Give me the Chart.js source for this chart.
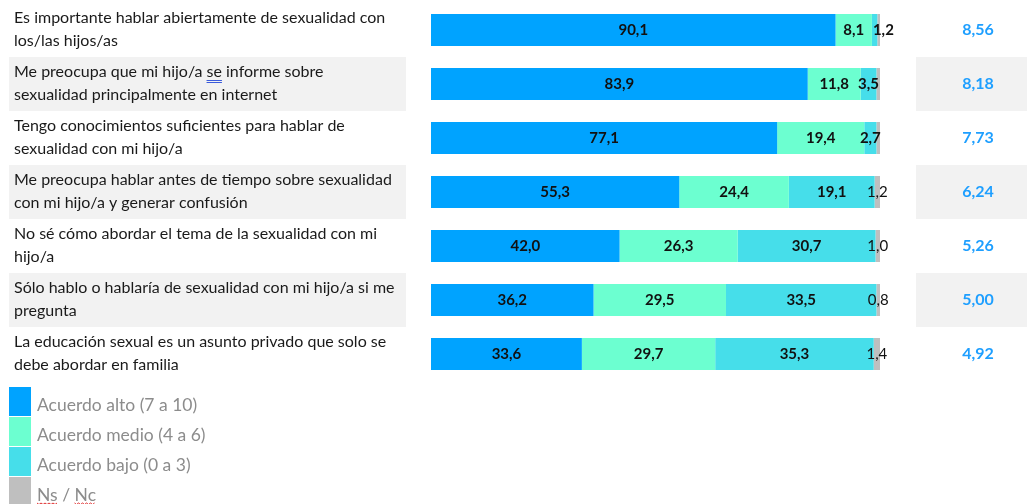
<!DOCTYPE html>
<html>
<head>
<meta charset="utf-8">
<script src="https://cdn.jsdelivr.net/npm/chart.js@4.4.1/dist/chart.umd.min.js"></script>
<style>
  html, body { margin: 0; padding: 0; background: #fff; }
  #wrap { width: 1027px; height: 504px; position: relative; }
</style>
</head>
<body>
<div id="wrap"><canvas id="chart" width="1027" height="504"></canvas></div>
<script>
// Statement labels (two lines each)
const statements = [
    ['Es importante hablar abiertamente de sexualidad con', 'los/las hijos/as'],
    ['Me preocupa que mi hijo/a se informe sobre', 'sexualidad principalmente en internet'],
    ['Tengo conocimientos suficientes para hablar de', 'sexualidad con mi hijo/a'],
    ['Me preocupa hablar antes de tiempo sobre sexualidad', 'con mi hijo/a y generar confusión'],
    ['No sé cómo abordar el tema de la sexualidad con mi', 'hijo/a'],
    ['Sólo hablo o hablaría de sexualidad con mi hijo/a si me', 'pregunta'],
    ['La educación sexual es un asunto privado que solo se', 'debe abordar en familia']
];

const acuerdoAlto  = [90.1, 83.9, 77.1, 55.3, 42.0, 36.2, 33.6];
const acuerdoMedio = [8.1, 11.8, 19.4, 24.4, 26.3, 29.5, 29.7];
const acuerdoBajo  = [1.2, 3.5, 2.7, 19.1, 30.7, 33.5, 35.3];
const nsNc         = [0.6, 0.8, 0.8, 1.2, 1.0, 0.8, 1.4];
const nsNcShown    = [false, false, false, true, true, true, true];
const promedios    = [8.56, 8.18, 7.73, 6.24, 5.26, 5.00, 4.92];

const seriesNames = ['Acuerdo alto (7 a 10)', 'Acuerdo medio (4 a 6)', 'Acuerdo bajo (0 a 3)', 'Ns / Nc'];
const seriesColors = ['#00A3FF', '#6CFFD0', '#46DEEA', '#BFBFBF'];

const FONT = 'Lato, "Noto Sans", sans-serif';
const fmt = (v, d) => v.toFixed(d).replace('.', ',');

// Table background, statement texts and average score column
const tablePlugin = {
    id: 'table',
    beforeDatasetsDraw(chart) {
        const { ctx, scales: { y } } = chart;
        const half = (y.getPixelForValue(1) - y.getPixelForValue(0)) / 2;
        ctx.save();
        statements.forEach((lines, i) => {
            const cy = y.getPixelForValue(i);
            if (i % 2 === 1) {
                ctx.fillStyle = '#F2F2F2';
                ctx.fillRect(9, cy - half, 397, half * 2);
                ctx.fillRect(916, cy - half, 111, half * 2);
            }
            ctx.fillStyle = '#1a1a1a';
            ctx.font = '16px ' + FONT;
            ctx.textBaseline = 'middle';
            ctx.textAlign = 'left';
            ctx.fillText(lines[0], 14, cy - 12);
            ctx.fillText(lines[1], 14, cy + 11);

            // spell-check underline on "se"
            if (i === 1) {
                const pre = ctx.measureText('Me preocupa que mi hijo/a ').width;
                const w = ctx.measureText('se').width;
                ctx.strokeStyle = '#3B5BDB';
                ctx.lineWidth = 1;
                ctx.beginPath();
                ctx.moveTo(14 + pre, cy - 3.5); ctx.lineTo(14 + pre + w, cy - 3.5);
                ctx.moveTo(14 + pre, cy - 1.5); ctx.lineTo(14 + pre + w, cy - 1.5);
                ctx.stroke();
            }

            ctx.fillStyle = '#1E9FFF';
            ctx.font = 'bold 16px ' + FONT;
            ctx.textAlign = 'center';
            ctx.fillText(fmt(promedios[i], 2), 978, cy);
        });
        ctx.restore();
    },
    afterDatasetsDraw(chart) {
        const { ctx } = chart;
        ctx.save();
        ctx.textBaseline = 'middle';
        chart.data.datasets.forEach((ds, di) => {
            const meta = chart.getDatasetMeta(di);
            meta.data.forEach((bar, i) => {
                if (di === 3 && !nsNcShown[i]) return;
                const w = Math.abs(bar.x - bar.base);
                ctx.fillStyle = '#111';
                ctx.font = (di === 3 ? '' : 'bold ') + '15px ' + FONT;
                if (di < 3 && w < 8) {
                    ctx.textAlign = 'left';
                    ctx.fillText(fmt(ds.data[i], 1), bar.base + 1, bar.y);
                } else {
                    ctx.textAlign = 'center';
                    ctx.fillText(fmt(ds.data[i], 1), (bar.x + bar.base) / 2, bar.y);
                }
            });
        });

        // legend
        const top = 387;
        seriesNames.forEach((name, k) => {
            const y0 = top + k * 30;
            ctx.fillStyle = seriesColors[k];
            ctx.fillRect(9, y0, 22, 29);
            ctx.fillStyle = '#8C8C8C';
            ctx.font = '17.5px ' + FONT;
            ctx.textAlign = 'left';
            ctx.fillText(name, 37, y0 + 18);
            if (k === 3) {
                // red squiggles under "Ns" and "Nc"
                const wNs = ctx.measureText('Ns').width;
                const wPre = ctx.measureText('Ns / ').width;
                const wNc = ctx.measureText('Nc').width;
                ctx.strokeStyle = '#E03030';
                ctx.lineWidth = 1;
                [[37, wNs], [37 + wPre, wNc]].forEach(([sx, w]) => {
                    ctx.beginPath();
                    for (let x = 0; x <= w; x += 2) {
                        const yy = y0 + 26 + ((x / 2) % 2 === 0 ? 0 : 1.5);
                        if (x === 0) ctx.moveTo(sx + x, yy); else ctx.lineTo(sx + x, yy);
                    }
                    ctx.stroke();
                });
            }
        });
        ctx.restore();
    }
};

const seriesData = [acuerdoAlto, acuerdoMedio, acuerdoBajo, nsNc];

new Chart(document.getElementById('chart'), {
    type: 'bar',
    data: {
        labels: statements.map(s => s.join(' ')),
        datasets: seriesData.map((d, k) => ({
            label: seriesNames[k],
            data: d,
            backgroundColor: seriesColors[k],
            borderWidth: 0,
            categoryPercentage: 1,
            barPercentage: 0.593
        }))
    },
    options: {
        indexAxis: 'y',
        responsive: false,
        animation: false,
        devicePixelRatio: 1,
        layout: { padding: { left: 431, right: 147, top: 3, bottom: 123 } },
        plugins: { legend: { display: false }, tooltip: { enabled: false } },
        scales: {
            x: { stacked: true, min: 0, max: 100, display: false },
            y: { stacked: true, display: false }
        }
    },
    plugins: [tablePlugin]
});
</script>
</body>
</html>
